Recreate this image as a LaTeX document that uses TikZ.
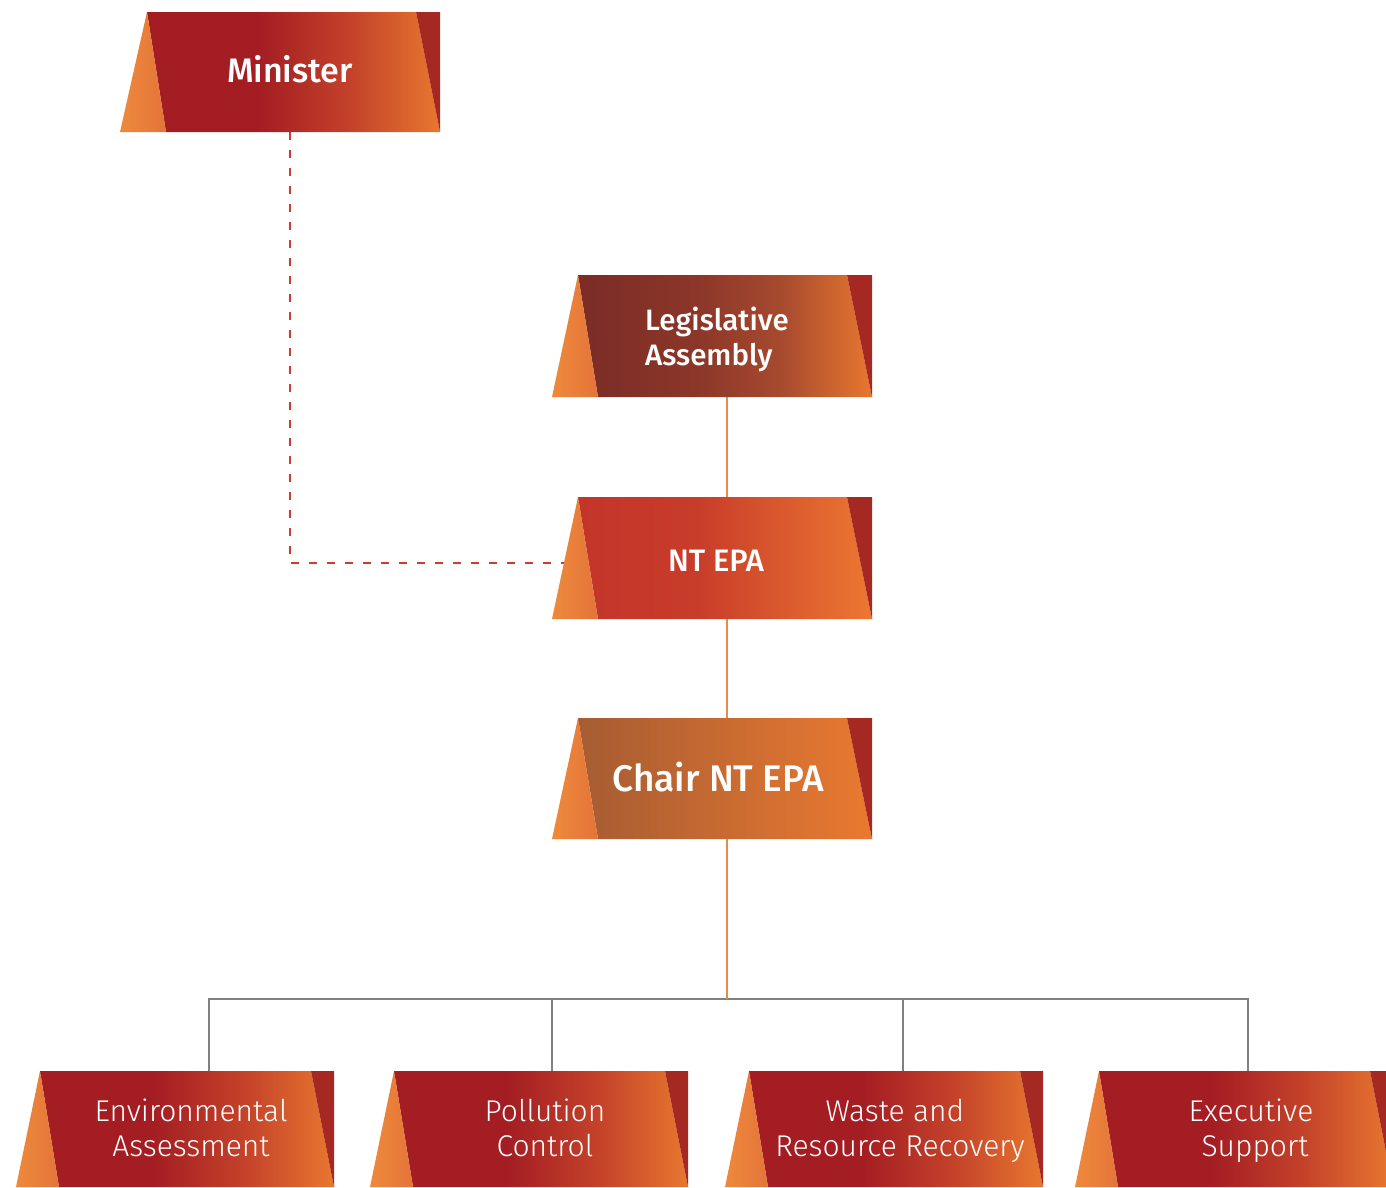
\documentclass[tikz,border=0pt]{standalone}
\usepackage{fontspec}
\setmainfont{Fira Sans}
\newfontfamily\lightfont{Fira Sans Light}
\newfontfamily\medfont{Fira Sans Medium}
\definecolor{cRed}{HTML}{A31D23}
\definecolor{cMid}{HTML}{C4432A}
\definecolor{cOr}{HTML}{E8772F}
\definecolor{lgA}{HTML}{7B2C27}
\definecolor{lgB}{HTML}{8B3629}
\definecolor{lgC}{HTML}{A84B2F}
\definecolor{ntA}{HTML}{C3352A}
\definecolor{ntB}{HTML}{C83C2A}
\definecolor{ntC}{HTML}{EC7731}
\definecolor{chA}{HTML}{A65C33}
\definecolor{chC}{HTML}{EA7930}
\definecolor{triA}{HTML}{EE8A3B}
\definecolor{triB}{HTML}{E4743A}
\definecolor{triR}{HTML}{A52823}
\definecolor{lnOr}{HTML}{EA8A4A}
\definecolor{lnGr}{HTML}{808080}
\definecolor{lnRd}{HTML}{D03A2F}
\pgfdeclarehorizontalshading{shMin}{100bp}{color(0bp)=(cRed); color(25bp)=(cRed); color(44bp)=(cRed); color(60bp)=(cMid); color(75bp)=(cOr); color(100bp)=(cOr)}
\pgfdeclarehorizontalshading{shLeg}{100bp}{color(0bp)=(lgA); color(25bp)=(lgA); color(45bp)=(lgB); color(60bp)=(lgC); color(75bp)=(cOr); color(100bp)=(cOr)}
\pgfdeclarehorizontalshading{shNT}{100bp}{color(0bp)=(ntA); color(25bp)=(ntA); color(45bp)=(ntB); color(75bp)=(ntC); color(100bp)=(ntC)}
\pgfdeclarehorizontalshading{shCh}{100bp}{color(0bp)=(chA); color(25bp)=(chA); color(75bp)=(chC); color(100bp)=(chC)}
\newcommand\orgshape[8]{%
  \shade[shading=#8] (#1+#5,#2) -- (#1+#3-#7,#2) -- (#1+#3,#2+#4) -- (#1+#6,#2+#4) -- cycle;
  \shade[left color=triA,right color=triB] (#1,#2+#4) -- (#1+#5,#2) -- (#1+#6,#2+#4) -- cycle;
  \fill[triR] (#1+#3-#7,#2) -- (#1+#3,#2) -- (#1+#3,#2+#4) -- cycle;
}
\tikzset{
  toptxt/.style={text=white,inner sep=0pt,anchor=base},
  bottxt/.style={text=white,inner sep=0pt,anchor=base,font=\lightfont\fontsize{30}{35}\selectfont},
  orline/.style={draw=lnOr,line width=2pt},
  grline/.style={draw=lnGr,line width=2pt},
  rdline/.style={draw=lnRd,line width=2pt,dash pattern=on 8pt off 10pt},
}
\begin{document}
\begin{tikzpicture}[x=1pt,y=-1pt]
\clip (0,0) rectangle (1386,1187);
\fill[white] (0,0) rectangle (1386,1187);
% connector coordinates
\coordinate (min-s) at (290,132);
\coordinate (nt-w) at (570,563);
\coordinate (leg-s) at (727,397);
\coordinate (nt-n) at (727,497);
\coordinate (nt-s) at (727,619);
\coordinate (ch-n) at (727,718);
\coordinate (ch-s) at (727,839);
\coordinate (bus) at (727,999);
\coordinate (env-n) at (209,1071);
\coordinate (pol-n) at (552,1071);
\coordinate (was-n) at (903,1071);
\coordinate (exe-n) at (1248,1071);
% connectors
\draw[rdline] (min-s) |- (nt-w);
\draw[orline] (leg-s) -- (nt-n);
\draw[orline] (nt-s) -- (ch-n);
\draw[grline] (env-n) -- (env-n |- bus) -- (exe-n |- bus) -- (exe-n);
\draw[grline] (pol-n) -- (pol-n |- bus);
\draw[grline] (was-n) -- (was-n |- bus);
\draw[orline] (ch-s) -- (bus);
% boxes
\orgshape{120}{12}{320}{120}{27}{46}{24}{shMin}
\orgshape{552}{275}{320}{122}{26}{46}{25}{shLeg}
\orgshape{552}{497}{320}{122}{26}{46}{25}{shNT}
\orgshape{552}{718}{320}{121}{26}{46}{25}{shCh}
\orgshape{16}{1071}{318}{116}{24}{43}{23}{shMin}
\orgshape{370}{1071}{318}{116}{24}{43}{23}{shMin}
\orgshape{725}{1071}{318}{116}{24}{43}{23}{shMin}
\orgshape{1075}{1071}{318}{116}{24}{43}{23}{shMin}
% texts
\node[toptxt,font=\medfont\fontsize{34}{40}\selectfont] (min) at (290,82) {Minister};
\node[toptxt,font=\medfont\fontsize{29.5}{36}\selectfont,anchor=base west] (leg) at (645,330) {Legislative};
\node[toptxt,font=\medfont\fontsize{29.5}{36}\selectfont,anchor=base west] (leg2) at (645,365) {Assembly};
\node[toptxt,font=\medfont\fontsize{31}{36}\selectfont] (nt) at (716,571) {NT EPA};
\node[toptxt,font=\medfont\fontsize{37}{40}\selectfont] (ch) at (718,791) {Chair NT EPA};
\node[bottxt] (env) at (191,1121) {Environmental};
\node[bottxt] (env2) at (191,1156) {Assessment};
\node[bottxt] (pol) at (545,1121) {Pollution};
\node[bottxt] (pol2) at (545,1156) {Control};
\node[bottxt] (was) at (895,1121) {Waste and};
\node[bottxt] (was2) at (900,1156) {Resource Recovery};
\node[bottxt] (exe) at (1251,1121) {Executive};
\node[bottxt] (exe2) at (1255,1156) {Support};
\end{tikzpicture}
\end{document}
